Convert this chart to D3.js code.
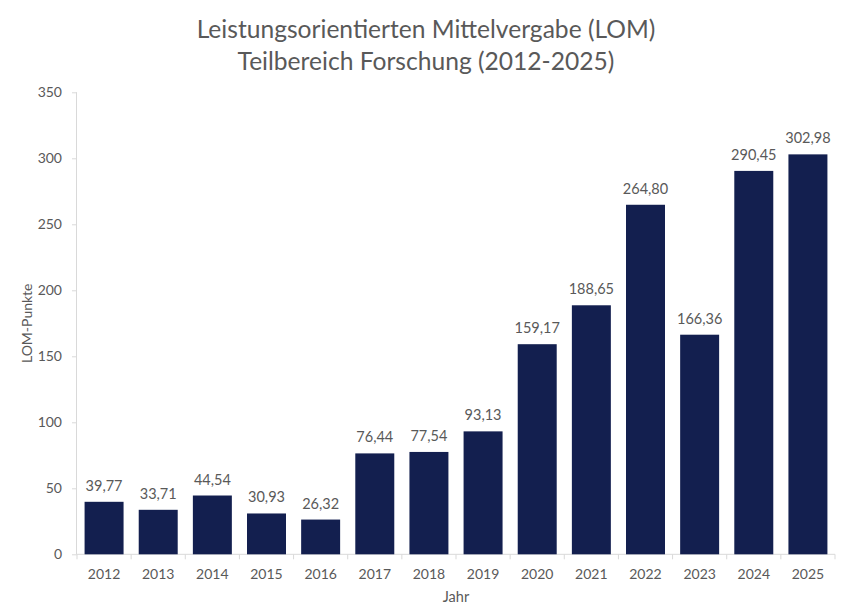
<!DOCTYPE html>
<html><head><meta charset="utf-8">
<script src="https://cdn.jsdelivr.net/npm/d3@7"></script>
<style>body{margin:0;background:#fff}svg{display:block;font-family:Lato,"Open Sans",sans-serif}</style>
</head><body>
<svg id="c" width="847" height="609"></svg>
<script>
const years = ["2012","2013","2014","2015","2016","2017","2018","2019","2020","2021","2022","2023","2024","2025"];
const values = [39.77,33.71,44.54,30.93,26.32,76.44,77.54,93.13,159.17,188.65,264.80,166.36,290.45,302.98];
const yTicks = [0,50,100,150,200,250,300,350];
const titleLines = ["Leistungsorientierten Mittelvergabe (LOM)","Teilbereich Forschung (2012-2025)"];

const svg = d3.select("#c");
const m = {l:77, r:835, t:92.3, b:554.3};
const x = d3.scaleBand().domain(years).range([m.l, m.r]).paddingInner(0.28).paddingOuter(0.14);
const y = d3.scaleLinear().domain([0,350]).range([m.b, m.t]);
const txt = "#595959", axc = "#d9d9d9";

svg.append("g").selectAll("text").data(titleLines).join("text")
  .attr("x", 426).attr("y",(d,i)=>38+i*32).attr("text-anchor","middle")
  .attr("font-size",24.6).attr("fill",txt).text(d=>d);

// y axis
const ya = svg.append("g").attr("transform",`translate(${m.l},0)`)
  .call(d3.axisLeft(y).tickValues(yTicks).tickSize(5).tickPadding(10).tickFormat(d3.format("d")));
ya.select(".domain").attr("stroke",axc).attr("d",`M-0.5,${m.b}V${m.t}`);
ya.selectAll(".tick line").attr("stroke",axc);
ya.selectAll(".tick text").attr("fill",txt).attr("font-size",14).attr("font-family","Lato,'Open Sans',sans-serif");

// x axis with ticks at category boundaries
const xg = svg.append("g").attr("transform",`translate(0,${m.b})`);
xg.append("line").attr("x1",m.l).attr("x2",m.r).attr("stroke",axc);
const bounds = d3.range(years.length+1).map(i=>m.l + i*(m.r-m.l)/years.length);
xg.selectAll(".bt").data(bounds).join("line").attr("x1",d=>d).attr("x2",d=>d).attr("y1",0).attr("y2",5).attr("stroke",axc);
xg.selectAll(".xl").data(years).join("text")
  .attr("x",d=>x(d)+x.bandwidth()/2).attr("y",25).attr("text-anchor","middle")
  .attr("font-size",14).attr("fill",txt).text(d=>d);

// bars
const data = years.map((yr,i)=>({yr, v:values[i]}));
svg.append("g").selectAll("rect").data(data).join("rect")
  .attr("x",d=>x(d.yr)).attr("width",x.bandwidth())
  .attr("y",d=>y(d.v)).attr("height",d=>y(0)-y(d.v)).attr("fill","#131f4f");

const fmt = d3.formatLocale({decimal:",",thousands:".",grouping:[3],currency:["","€"]}).format(".2f");
svg.append("g").selectAll("text").data(data).join("text")
  .attr("x",d=>x(d.yr)+x.bandwidth()/2).attr("y",d=>y(d.v)-11).attr("text-anchor","middle")
  .attr("font-size",14.5).attr("fill",txt).text(d=>fmt(d.v));

svg.append("text").attr("transform",`translate(32,${(m.t+m.b)/2}) rotate(-90)`)
  .attr("text-anchor","middle").attr("font-size",14).attr("fill",txt).text("LOM-Punkte");
svg.append("text").attr("x",(m.l+m.r)/2).attr("y",602).attr("text-anchor","middle")
  .attr("font-size",14.5).attr("fill",txt).text("Jahr");
</script>
</body></html>
